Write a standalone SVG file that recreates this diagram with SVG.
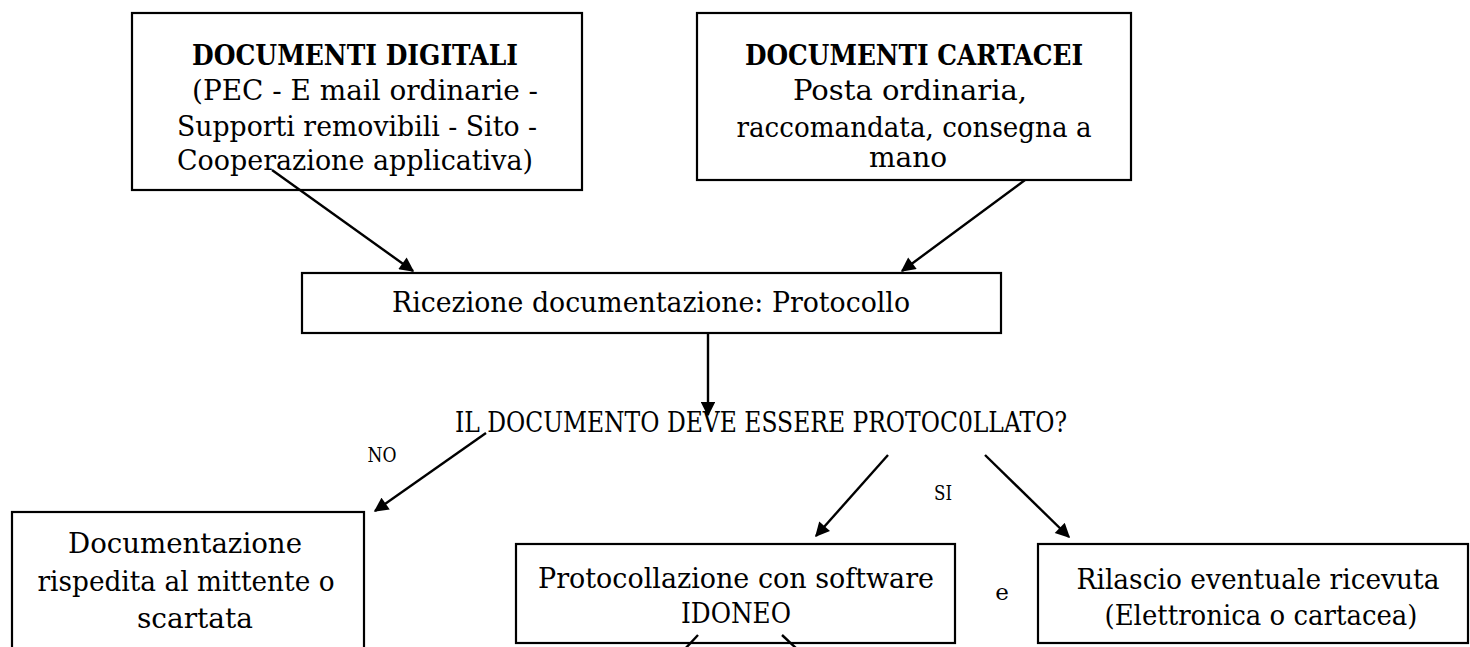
<svg xmlns="http://www.w3.org/2000/svg" width="1470" height="647" viewBox="0 0 1470 647">
<style>
.box{fill:#fff;stroke:#000;stroke-width:2.2}
.t{font-family:"DejaVu Serif","Liberation Serif",serif;font-size:28px;fill:#000;text-anchor:middle}
.b{font-weight:bold}
.s{font-family:"DejaVu Serif","Liberation Serif",serif;font-size:21px;fill:#000;text-anchor:middle}
.c{stroke:#000;stroke-width:2.4;fill:none}
</style>
<defs>
<marker id="ah" viewBox="0 0 10 10" refX="9" refY="5" markerWidth="6.5" markerHeight="6" markerUnits="strokeWidth" orient="auto">
<path d="M0,0 L10,5 L0,10 z" fill="#000"/>
</marker>
</defs>
<rect width="1470" height="647" fill="#fff"/>
<g id="n-digitali">
<rect class="box" x="132" y="13" width="450" height="177"/>
<text class="t b" x="355" y="65" textLength="326" lengthAdjust="spacingAndGlyphs">DOCUMENTI DIGITALI</text>
<text class="t" x="365" y="100" textLength="346" lengthAdjust="spacingAndGlyphs">(PEC - E mail ordinarie -</text>
<text class="t" x="357" y="136" textLength="360" lengthAdjust="spacingAndGlyphs">Supporti removibili - Sito -</text>
<text class="t" x="355" y="170" textLength="356" lengthAdjust="spacingAndGlyphs">Cooperazione applicativa)</text>
</g>
<g id="n-cartacei">
<rect class="box" x="697" y="13" width="434" height="167"/>
<text class="t b" x="914" y="65" textLength="338" lengthAdjust="spacingAndGlyphs">DOCUMENTI CARTACEI</text>
<text class="t" x="910" y="100" textLength="234" lengthAdjust="spacingAndGlyphs">Posta ordinaria,</text>
<text class="t" x="914" y="137" textLength="355" lengthAdjust="spacingAndGlyphs">raccomandata, consegna a</text>
<text class="t" x="908" y="167">mano</text>
</g>
<g id="n-ricezione">
<rect class="box" x="302" y="273" width="699" height="60"/>
<text class="t" x="651" y="312" textLength="518" lengthAdjust="spacingAndGlyphs">Ricezione documentazione: Protocollo</text>
</g>
<g id="n-domanda">
<text class="t" x="761" y="432" textLength="612" lengthAdjust="spacingAndGlyphs">IL DOCUMENTO DEVE ESSERE PROTOC0LLATO?</text>
</g>
<g id="n-documentazione">
<rect class="box" x="12" y="512" width="352" height="150"/>
<text class="t" x="185" y="553" textLength="234" lengthAdjust="spacingAndGlyphs">Documentazione</text>
<text class="t" x="186" y="591" textLength="297" lengthAdjust="spacingAndGlyphs">rispedita al mittente o</text>
<text class="t" x="195" y="628">scartata</text>
</g>
<g id="n-protocollazione">
<rect class="box" x="516" y="544" width="439" height="99"/>
<text class="t" x="736" y="588" textLength="396" lengthAdjust="spacingAndGlyphs">Protocollazione con software</text>
<text class="t" x="736" y="623" textLength="110" lengthAdjust="spacingAndGlyphs">IDONEO</text>
</g>
<g id="n-rilascio">
<rect class="box" x="1038" y="544" width="430" height="99"/>
<text class="t" x="1258" y="589" textLength="363" lengthAdjust="spacingAndGlyphs">Rilascio eventuale ricevuta</text>
<text class="t" x="1261" y="625" textLength="313" lengthAdjust="spacingAndGlyphs">(Elettronica o cartacea)</text>
</g>
<g id="labels">
<text class="s" x="382" y="462" textLength="29" lengthAdjust="spacingAndGlyphs">NO</text>
<text class="s" x="943" y="500" textLength="18" lengthAdjust="spacingAndGlyphs">SI</text>
<text class="s" x="1002" y="600" style="font-size:23px">e</text>
</g>
<g id="connectors">
<line class="c" x1="272" y1="170" x2="413" y2="271" marker-end="url(#ah)"/>
<line class="c" x1="1025" y1="180" x2="902" y2="271" marker-end="url(#ah)"/>
<line class="c" x1="708" y1="333" x2="708" y2="415" marker-end="url(#ah)"/>
<line class="c" x1="486" y1="433" x2="375" y2="511" marker-end="url(#ah)"/>
<line class="c" x1="888" y1="455" x2="816" y2="536" marker-end="url(#ah)"/>
<line class="c" x1="985" y1="455" x2="1069" y2="537" marker-end="url(#ah)"/>
<line class="c" x1="698" y1="635" x2="684" y2="650"/>
<line class="c" x1="782" y1="635" x2="798" y2="650"/>
</g>
</svg>
